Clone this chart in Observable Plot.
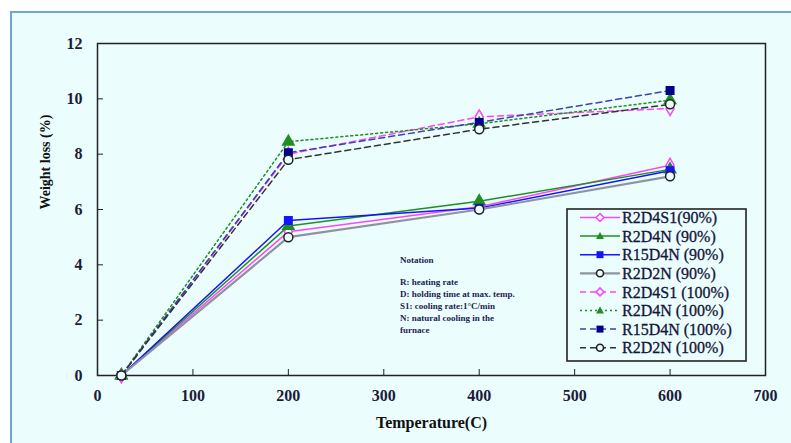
<!DOCTYPE html>
<html>
<head>
<meta charset="utf-8">
<script src="https://cdn.jsdelivr.net/npm/d3@7"></script>
<script src="https://cdn.jsdelivr.net/npm/@observablehq/plot@0.6"></script>
<style>
  html, body { margin: 0; padding: 0; background: #ffffff; }
  #wrap { position: relative; width: 791px; height: 443px; overflow: hidden; background: #fff; }
  #panel { position: absolute; left: 10px; top: 11px; width: 800px; height: 460px; background: #ebfdfd;
           border-left: 2px solid #6fa3db; border-top: 2px solid #6fa3db; }
  #chart { position: absolute; left: 0; top: 0; }
  #legend { position: absolute; left: 566px; top: 208px; }
  #note { position: absolute; left: 400px; top: 254px; font-family: "Liberation Serif", "Times New Roman", serif; font-size: 9px;
          font-weight: bold; color: #1d1d55; line-height: 12px; height: 80px; overflow: hidden; }
</style>
</head>
<body>
<div id="wrap">
  <div id="panel"></div>
  <div id="chart"></div>
  <div id="note"></div>
  <div id="legend"></div>
</div>
<script>
// ---- data ----
const temps = [25, 200, 400, 600];
const seriesNames = ["R2D4S1(90%)", "R2D4N (90%)", "R15D4N (90%)", "R2D2N (90%)",
                     "R2D4S1 (100%)", "R2D4N (100%)", "R15D4N (100%)", "R2D2N (100%)"];
const r2d4s1_90  = [0, 5.2, 6.1, 7.6];
const r2d4n_90   = [0, 5.4, 6.3, 7.45];
const r15d4n_90  = [0, 5.6, 6.05, 7.4];
const r2d2n_90   = [0, 5.0, 6.0, 7.2];
const r2d4s1_100 = [0, 8.0, 9.35, 9.65];
const r2d4n_100  = [0, 8.45, 9.1, 9.95];
const r15d4n_100 = [0, 8.05, 9.15, 10.3];
const r2d2n_100  = [0, 7.8, 8.9, 9.8];
const seriesValues = [r2d4s1_90, r2d4n_90, r15d4n_90, r2d2n_90, r2d4s1_100, r2d4n_100, r15d4n_100, r2d2n_100];
const xTicks = [0, 100, 200, 300, 400, 500, 600, 700];
const yTicks = [0, 2, 4, 6, 8, 10, 12];
const xLabel = "Temperature(C)";
const yLabel = "Weight loss (%)";
const notation = ["Notation", "", "R: heating rate", "D: holding time at max. temp.",
                  "S1: cooling rate:1°C/min", "N: natural cooling in the", "furnace"];

// ---- styles ----
const BG = "#ebfdfd";
const styles = [
  {line: "#ff44ff", dash: null, w: 1.5, sym: "diamond", mstroke: "#ff44ff", mfill: BG},
  {line: "#1f8f1f", dash: null, w: 1.5, sym: "triangle", mstroke: "#1f8f1f", mfill: "#1f8f1f"},
  {line: "#1414ff", dash: null, w: 1.5, sym: "square", mstroke: "#1414ff", mfill: "#1414ff"},
  {line: "#8e949e", dash: null, w: 2.2, sym: "circle", mstroke: "#222", mfill: BG},
  {line: "#ff44ff", dash: "6,4", w: 1.5, sym: "diamond", mstroke: "#ff44ff", mfill: BG},
  {line: "#1f8f1f", dash: "2,3", w: 1.5, sym: "triangle", mstroke: "#1f8f1f", mfill: "#1f8f1f"},
  {line: "#4040b0", dash: "6,4", w: 1.5, sym: "square", mstroke: "#00008c", mfill: "#00008c"},
  {line: "#333333", dash: "6,4", w: 1.5, sym: "circle", mstroke: "#222", mfill: BG}
];

const rows = [];
seriesNames.forEach((name, i) => temps.forEach((t, j) => rows.push({series: name, idx: i, t, v: seriesValues[i][j]})));

const order = [4, 5, 6, 7, 0, 1, 2, 3];
const marks = [Plot.frame({stroke: "#222", strokeWidth: 1.5})];
for (const i of order) {
  const s = styles[i];
  const d = rows.filter(r => r.idx === i);
  marks.push(Plot.line(d, {x: "t", y: "v", stroke: s.line, strokeWidth: s.w, strokeDasharray: s.dash}));
}
for (const i of order) {
  const s = styles[i];
  const d = rows.filter(r => r.idx === i);
  marks.push(Plot.dot(d, {x: "t", y: "v", symbol: s.sym, r: s.sym === "circle" ? 4.5 : 4.2,
    stroke: s.mstroke, fill: s.mfill, strokeWidth: 1.5}));
}
marks.push(Plot.axisX({ticks: xTicks, tickSize: -6, tickPadding: 20, fontSize: 16, fontWeight: "bold",
  label: null, fill: "#1b1b3a"}));
marks.push(Plot.axisY({ticks: yTicks, tickSize: -6, tickPadding: 21, fontSize: 16, fontWeight: "bold",
  label: null, fill: "#1b1b3a"}));
marks.push(Plot.text([xLabel], {text: d => d, frameAnchor: "bottom", lineAnchor: "middle", dy: 47, fontSize: 16, fontWeight: "bold", fill: "#111"}));
marks.push(Plot.text([yLabel], {text: d => d, frameAnchor: "left", dx: -52, rotate: -90, fontSize: 14, fontWeight: "bold", fill: "#111"}));

const chart = Plot.plot({
  width: 791, height: 443,
  marginLeft: 97, marginRight: 26, marginTop: 43, marginBottom: 68,
  x: {domain: [0, 700]},
  y: {domain: [0, 12]},
  style: {background: "transparent", fontFamily: "Liberation Serif, serif", color: "#222"},
  marks
});
document.getElementById("chart").appendChild(chart);

// ---- legend (inline SVG) ----
const NS = "http://www.w3.org/2000/svg";
let svg = `<svg xmlns="${NS}" width="182" height="156" font-family="Liberation Serif, serif" font-size="16">`;
svg += `<rect x="1" y="1" width="179" height="152" fill="none" stroke="#222" stroke-width="1.6"/>`;
seriesNames.forEach((name, i) => {
  const s = styles[i];
  const cy = 9.5 + i * 18.6;
  const cx = 34;
  svg += `<line x1="14" y1="${cy}" x2="54" y2="${cy}" stroke="${s.line}" stroke-width="${s.w}" ${s.dash ? `stroke-dasharray="${s.dash}"` : ""}/>`;
  if (s.sym === "diamond") svg += `<path d="M${cx},${cy-4} L${cx+4},${cy} L${cx},${cy+4} L${cx-4},${cy} Z" fill="${s.mfill}" stroke="${s.mstroke}" stroke-width="1.5"/>`;
  if (s.sym === "triangle") svg += `<path d="M${cx},${cy-4} L${cx+4},${cy+3} L${cx-4},${cy+3} Z" fill="${s.mfill}"/>`;
  if (s.sym === "square") svg += `<rect x="${cx-3.5}" y="${cy-3.5}" width="7" height="7" fill="${s.mfill}"/>`;
  if (s.sym === "circle") svg += `<circle cx="${cx}" cy="${cy}" r="3.5" fill="${s.mfill}" stroke="${s.mstroke}" stroke-width="1.6"/>`;
  svg += `<text x="56" y="${cy}" dy="0.35em" fill="#15153a" stroke="#15153a" stroke-width="0.3">${name}</text>`;
});
svg += `</svg>`;
document.getElementById("legend").innerHTML = svg;

// ---- notation ----
document.getElementById("note").innerHTML = notation.map(l => `<div style="height:${l ? 12 : 10}px">${l}</div>`).join("");
</script>
</body>
</html>
